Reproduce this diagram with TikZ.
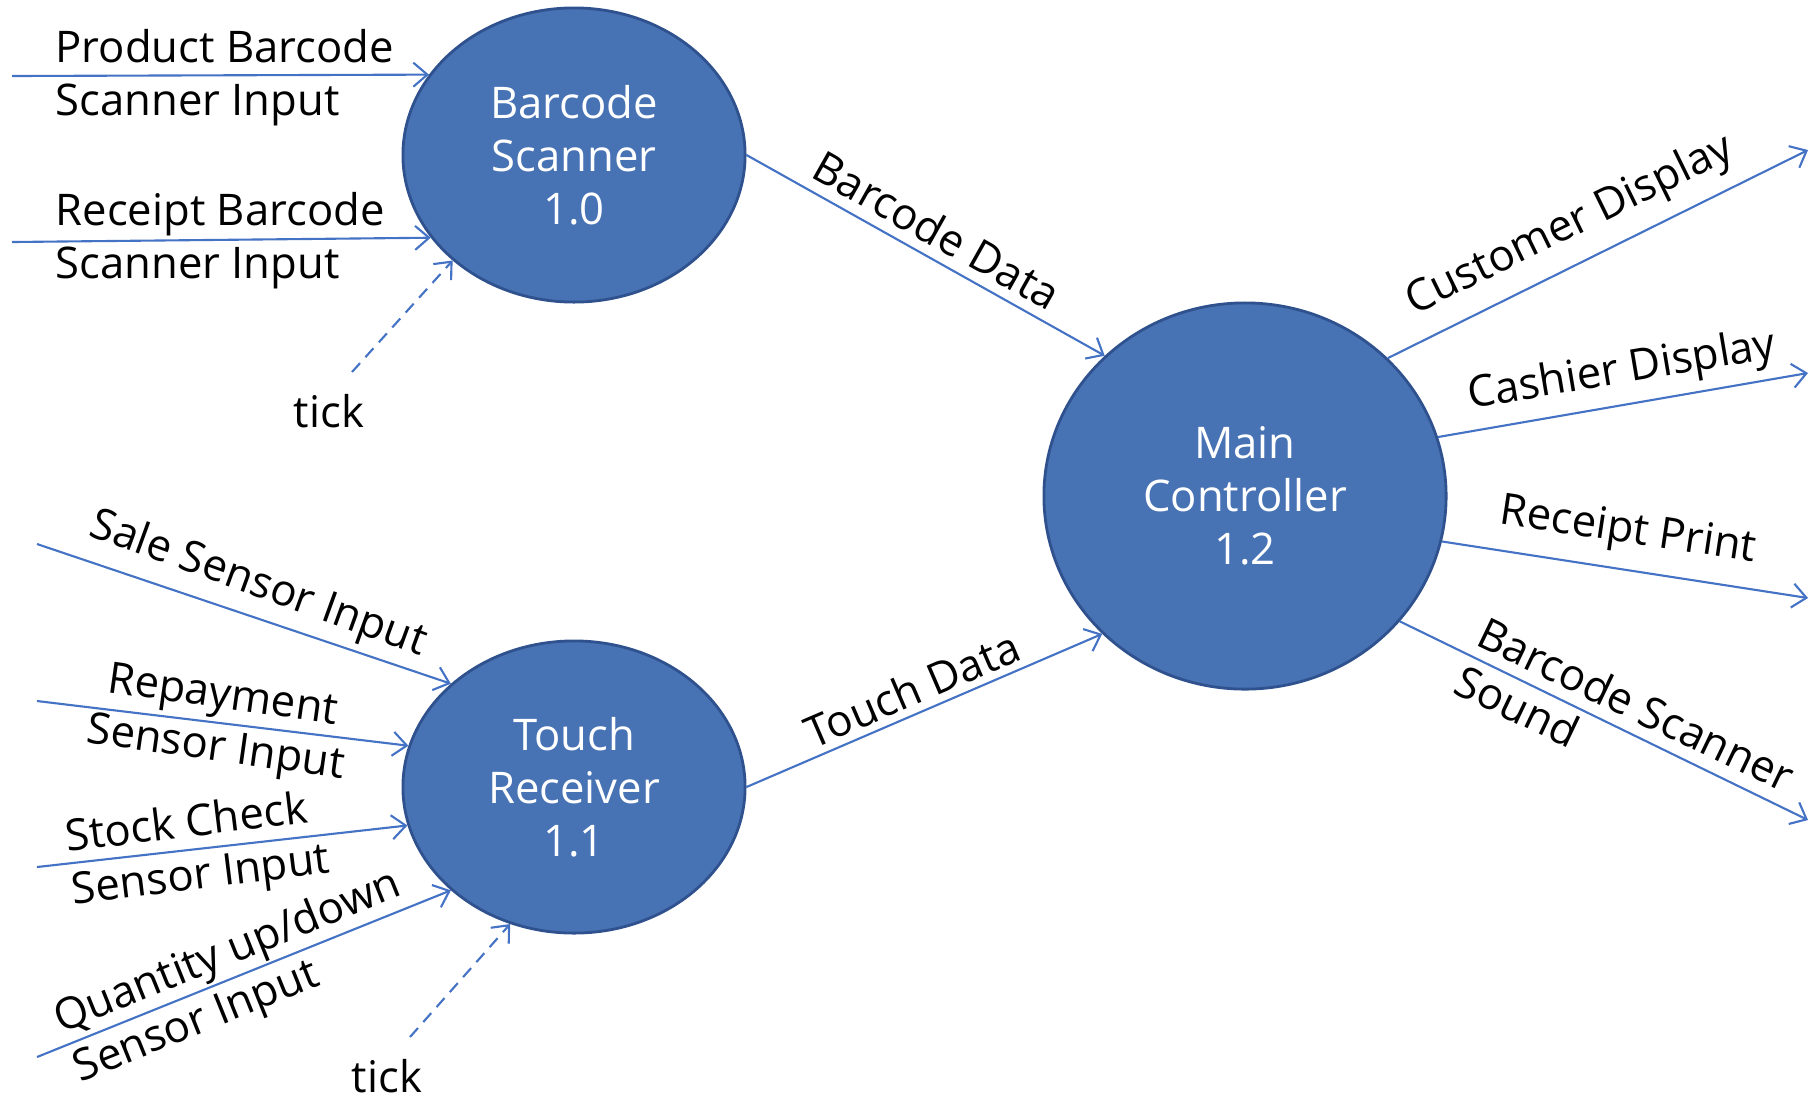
\documentclass[tikz,border=0pt]{standalone}
\usepackage{fontspec}
\setmainfont{Open Sans}
\usetikzlibrary{arrows.meta,shapes.geometric}
\definecolor{procfill}{RGB}{71,114,180}
\definecolor{procedge}{RGB}{47,82,143}
\definecolor{flowline}{RGB}{68,114,196}

\begin{document}
\begin{tikzpicture}[x=0.01cm,y=-0.01cm,
		proc/.style={ellipse,fill=procfill,draw=procedge,line width=0.8pt,inner sep=0pt,text=white,align=center,font=\fontsize{12.4}{15}\selectfont},
		flow/.style={draw=flowline,line width=0.6pt,-{Straight Barb[length=1.4mm,width=2.4mm]}},
		clock/.style={flow,dash pattern=on 1.2mm off 0.8mm},
		lbl/.style={inner sep=0pt,font=\fontsize{12.4}{15}\selectfont}]
		%%%%% START %%%%%
		
		\useasboundingbox (0,0) rectangle (1810,1096);
		
		% processes
		\node[proc,minimum width=3.42cm,minimum height=2.94cm] (bs) at (574,155) {Barcode\\Scanner\\1.0};
		\node[proc,minimum width=3.42cm,minimum height=2.92cm] (tr) at (574,787) {Touch\\Receiver\\1.1};
		\node[proc,minimum width=4.02cm,minimum height=3.86cm] (mc) at (1245,496) {Main\\Controller\\1.2};
		
		% free ends
		\coordinate (prodin) at (12,76);
		\coordinate (rcptin) at (12,242);
		\coordinate (tickA) at (352,372);
		\coordinate (salein) at (37,544);
		\coordinate (repayin) at (37,701);
		\coordinate (stockin) at (37,867);
		\coordinate (qtyin) at (37,1057);
		\coordinate (tickB) at (410,1037);
		\coordinate (custout) at (1808,150);
		\coordinate (cashout) at (1808,373);
		\coordinate (printout) at (1808,598);
		\coordinate (soundout) at (1808,820);
		
		% inputs of the scanner
		\draw[flow] (prodin) -- (bs.151);
		\draw[flow] (rcptin) -- (bs.210.5);
		\draw[clock] (tickA) -- (bs.221);
		\node[lbl,anchor=west,align=left] (prodlbl) at (55,78) {Product Barcode\\Scanner Input};
		\node[lbl,anchor=west,align=left] (rcptlbl) at (55,241) {Receipt Barcode\\Scanner Input};
		\node[lbl] (ticklblA) at (329,411) {tick};
		
		% inputs of the receiver
		\draw[flow] (salein) -- (tr.140);
		\draw[flow] (repayin) -- (tr.166);
		\draw[flow] (stockin) -- (tr.193);
		\draw[flow] (qtyin) -- (tr.220);
		\draw[clock] (tickB) -- (tr.245);
		\node[lbl,rotate=-20] (salelbl) at (258,585) {Sale Sensor Input};
		\node[lbl,rotate=-8,align=center] (repaylbl) at (219,724) {Repayment\\Sensor Input};
		\node[lbl,rotate=7,align=left] (stocklbl) at (198,851) {Stock Check\\Sensor Input};
		\node[lbl,rotate=22,align=left] (qtylbl) at (238,978) {Quantity up/down\\Sensor Input};
		\node[lbl] (ticklblB) at (387,1076) {tick};
		
		% into the controller
		\draw[flow] (bs.-0.7) -- (mc.135.6);
		\draw[flow] (tr.east) -- (mc.224.4);
		\node[lbl,rotate=-29.4] (bdlbl) at (937,230) {Barcode Data};
		\node[lbl,rotate=23.3] (tdlbl) at (912,689) {Touch Data};
		
		% outputs of the controller
		\draw[flow] (mc.44.2) -- (custout);
		\draw[flow] (mc.17.2) -- (cashout);
		\draw[flow] (mc.-13.5) -- (printout);
		\draw[flow] (mc.-39.7) -- (soundout);
		\node[lbl,rotate=26.1] (custlbl) at (1570,226) {Customer Display};
		\node[lbl,rotate=9.5] (cashlbl) at (1622,372) {Cashier Display};
		\node[lbl,rotate=-8.5] (printlbl) at (1628,532) {Receipt Print};
		\node[lbl,rotate=-25.6,align=left] (soundlbl) at (1625,728) {Barcode Scanner\\Sound};
		
		%%%%% END %%%%%
	\end{tikzpicture}
\end{document}
